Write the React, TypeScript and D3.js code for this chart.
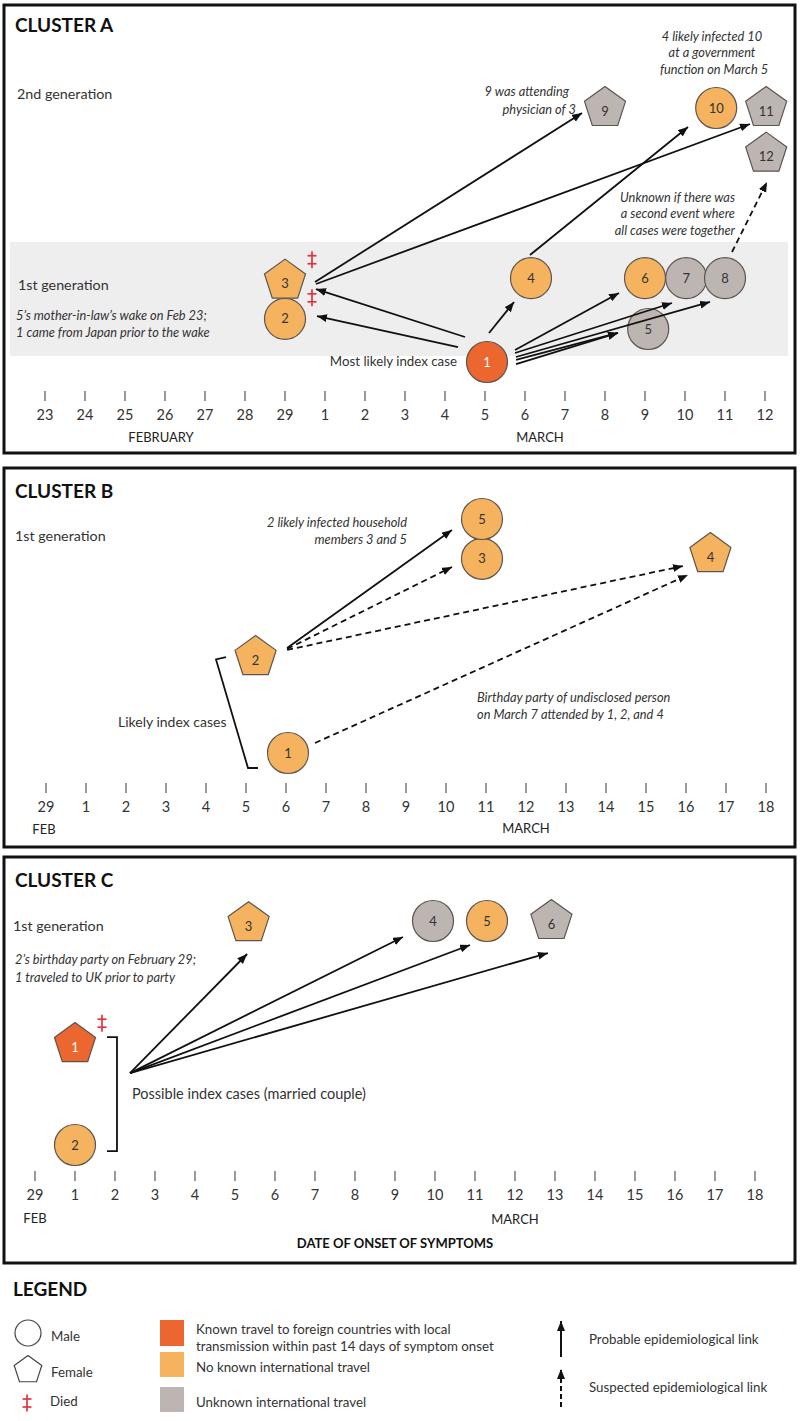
import React from 'react';
import * as d3 from 'd3';

// ---------- DATA ----------
// Day numbering: February d -> d, March d -> 29 + d
const tickDaysA = [23, 24, 25, 26, 27, 28, 29, 30, 31, 32, 33, 34, 35, 36, 37, 38, 39, 40, 41];
const tickLabelsA = ['23', '24', '25', '26', '27', '28', '29', '1', '2', '3', '4', '5', '6', '7', '8', '9', '10', '11', '12'];
const tickDaysBC = [29, 30, 31, 32, 33, 34, 35, 36, 37, 38, 39, 40, 41, 42, 43, 44, 45, 46, 47];
const tickLabelsBC = ['29', '1', '2', '3', '4', '5', '6', '7', '8', '9', '10', '11', '12', '13', '14', '15', '16', '17', '18'];

type Case = { id: string; onset: number; lane: number; sex: 'M' | 'F'; travel: 'known' | 'none' | 'unknown'; died?: boolean };
type Link = { from: string; to: string; kind: 'probable' | 'suspected' };

const casesA: Case[] = [
  { id: '1', onset: 34.05, lane: 0, sex: 'M', travel: 'known' },
  { id: '2', onset: 29, lane: 1.7, sex: 'M', travel: 'none', died: true },
  { id: '3', onset: 29, lane: 3.2, sex: 'F', travel: 'none', died: true },
  { id: '4', onset: 35.15, lane: 3.3, sex: 'M', travel: 'none' },
  { id: '5', onset: 38.08, lane: 1.3, sex: 'M', travel: 'unknown' },
  { id: '6', onset: 38, lane: 3.3, sex: 'M', travel: 'none' },
  { id: '7', onset: 39.03, lane: 3.3, sex: 'M', travel: 'unknown' },
  { id: '8', onset: 40, lane: 3.3, sex: 'M', travel: 'unknown' },
  { id: '9', onset: 37, lane: 10, sex: 'F', travel: 'unknown' },
  { id: '10', onset: 39.78, lane: 10, sex: 'M', travel: 'none' },
  { id: '11', onset: 41.03, lane: 10, sex: 'F', travel: 'unknown' },
  { id: '12', onset: 41.03, lane: 8.2, sex: 'F', travel: 'unknown' },
];
const linksA: Link[] = [
  { from: '1', to: '2', kind: 'probable' },
  { from: '1', to: '3', kind: 'probable' },
  { from: '3', to: '9', kind: 'probable' },
  { from: '3', to: '11', kind: 'probable' },
  { from: '4', to: '10', kind: 'probable' },
  { from: '8', to: '12', kind: 'suspected' },
  { from: '1', to: '4', kind: 'probable' },
  { from: '1', to: '6', kind: 'probable' },
  { from: '1', to: '7', kind: 'probable' },
  { from: '1', to: '8', kind: 'probable' },
  { from: '1', to: '5', kind: 'probable' },
  { from: '1', to: '5', kind: 'probable' },
];

const casesB: Case[] = [
  { id: '1', onset: 35.05, lane: 0, sex: 'M', travel: 'none' },
  { id: '2', onset: 34.24, lane: 4.1, sex: 'F', travel: 'none' },
  { id: '3', onset: 39.9, lane: 8.3, sex: 'M', travel: 'none' },
  { id: '5', onset: 39.9, lane: 10, sex: 'M', travel: 'none' },
  { id: '4', onset: 45.61, lane: 8.5, sex: 'F', travel: 'none' },
];
const linksB: Link[] = [
  { from: '2', to: '5', kind: 'probable' },
  { from: '2', to: '3', kind: 'suspected' },
  { from: '2', to: '4', kind: 'suspected' },
  { from: '1', to: '4', kind: 'suspected' },
];

const casesC: Case[] = [
  { id: '1', onset: 30, lane: 4.5, sex: 'F', travel: 'known', died: true },
  { id: '2', onset: 30, lane: 0, sex: 'M', travel: 'none' },
  { id: '3', onset: 34.34, lane: 9.9, sex: 'F', travel: 'none' },
  { id: '4', onset: 38.95, lane: 10, sex: 'M', travel: 'unknown' },
  { id: '5', onset: 40.3, lane: 10, sex: 'M', travel: 'none' },
  { id: '6', onset: 41.91, lane: 10, sex: 'F', travel: 'unknown' },
];
const pairC = { onset: 31.375, lane: 3.21 };
const linksC: Link[] = [
  { from: 'pair', to: '3', kind: 'probable' },
  { from: 'pair', to: '4', kind: 'probable' },
  { from: 'pair', to: '5', kind: 'probable' },
  { from: 'pair', to: '6', kind: 'probable' },
];

// ---------- LAYOUT (ports: [startAngle, startDist, endAngle, endDist]) ----------
const portsA = [
  [207.3, 32.6, -5, 32.1],
  [228.7, 33.3, 15, 32.1],
  [2.5, 30, 167.7, 23.5],
  [6, 31.2, 135.4, 22.8],
  [267.5, 23.2, 146, 34],
  [285, 27.1, 88.4, 28.3],
  [274, 29.1, 125.5, 29.2],
  [336.8, 30.5, 150.3, 29.9],
  [342.2, 29.4, 119.8, 28.6],
  [350.2, 29.4, 122.2, 28.1],
  [356, 29.1, 172.5, 30.5],
  [4, 29.1, 172.5, 30.5],
];
const portsB = [
  [343.9, 32.8, 159.9, 32],
  [345.6, 32.5, 164.7, 31.1],
  [347.3, 32.3, 156.6, 30],
  [339.7, 28.8, 137.1, 30.7],
];
const portsC = [
  [0, 0, 92.8, 30.8],
  [0, 0, 151.9, 34],
  [0, 0, 125.3, 29.4],
  [0, 0, 96.2, 32.2],
];

const FILL: Record<string, string> = { known: '#ec6630', none: '#f5b35f', unknown: '#bdb5b2' };
const CIRCLE_R = 20.5;
const PENT_R = 21.6;
const FONT = 'Lato, "Open Sans", sans-serif';

function pentPath(cx: number, cy: number, R: number) {
  const pts = [0, 1, 2, 3, 4].map((k) => {
    const a = ((-90 + 72 * k) * Math.PI) / 180;
    return [cx + R * Math.cos(a), cy + R * Math.sin(a)] as [number, number];
  });
  return (d3.line()(pts) as string) + 'Z';
}

function port(c: { x: number; y: number }, angle: number, dist: number) {
  const a = (angle * Math.PI) / 180;
  return [c.x + dist * Math.cos(a), c.y + dist * Math.sin(a)];
}

// "Died" symbol (double dagger), drawn as a glyph-like mark
function Dagger({ x, y }: { x: number; y: number }) {
  const c = '#e3343c';
  return (
    <g stroke={c} strokeWidth={1.7} fill="none">
      <line x1={x} x2={x} y1={y - 8.5} y2={y + 8.5} />
      <line x1={x - 4.5} x2={x + 4.5} y1={y - 4} y2={y - 4} />
      <line x1={x - 4.5} x2={x + 4.5} y1={y + 4} y2={y + 4} />
    </g>
  );
}

type ClusterProps = {
  uid: string;
  cases: Case[];
  links: Link[];
  ports: number[][];
  x: d3.ScaleLinear<number, number>;
  y: d3.ScaleLinear<number, number>;
  anchor?: { onset: number; lane: number };
  tickDays: number[];
  tickLabels: string[];
  tickY: number;
};

function Cluster({ uid, cases, links, ports, x, y, anchor, tickDays, tickLabels, tickY }: ClusterProps) {
  const pos: Record<string, { x: number; y: number }> = {};
  cases.forEach((c) => (pos[c.id] = { x: x(c.onset), y: y(c.lane) }));
  if (anchor) pos['pair'] = { x: x(anchor.onset), y: y(anchor.lane) };
  return (
    <g>
      <defs>
        <marker id={'arr' + uid} markerUnits="userSpaceOnUse" markerWidth={11} markerHeight={9} refX={10} refY={4} orient="auto">
          <path d="M0,0 L10,4 L0,8 Z" fill="#111" />
        </marker>
      </defs>
      {tickDays.map((d, i) => (
        <g key={'t' + i}>
          <line x1={x(d)} x2={x(d)} y1={tickY} y2={tickY + 10} stroke="#555" strokeWidth={1.2} />
          <text x={x(d)} y={tickY + 29} textAnchor="middle" fontSize={14.5} fill="#333" fontFamily={FONT}>
            {tickLabels[i]}
          </text>
        </g>
      ))}
      {cases.map((c) => {
        const p = pos[c.id];
        const fill = FILL[c.travel];
        return (
          <g key={'n' + c.id}>
            {c.sex === 'M' ? (
              <circle cx={p.x} cy={p.y} r={CIRCLE_R} fill={fill} stroke="#5b5550" strokeWidth={1.2} />
            ) : (
              <path d={pentPath(p.x, p.y, PENT_R)} fill={fill} stroke="#5b5550" strokeWidth={1.2} />
            )}
            <text
              x={p.x}
              y={p.y + (c.sex === 'F' ? 3 : 0)}
              dy="0.35em"
              textAnchor="middle"
              fontSize={13}
              fill={c.travel === 'known' ? '#fff' : '#333'}
              fontFamily={FONT}
            >
              {c.id}
            </text>
            {c.died && <Dagger x={p.x + 27} y={p.y - 21} />}
          </g>
        );
      })}
      {links.map((l, i) => {
        const [a0, d0, a1, d1] = ports[i];
        const s = port(pos[l.from], a0, d0);
        const e = port(pos[l.to], a1, d1);
        return (
          <line
            key={'l' + i}
            x1={s[0]}
            y1={s[1]}
            x2={e[0]}
            y2={e[1]}
            stroke="#111"
            strokeWidth={1.8}
            strokeDasharray={l.kind === 'suspected' ? '6 4' : undefined}
            markerEnd={`url(#arr${uid})`}
          />
        );
      })}
    </g>
  );
}

export default function App() {
  const xA = d3.scaleLinear().domain([23, 41]).range([45, 765]);
  const yA = d3.scaleLinear().domain([0, 10]).range([362, 108]);
  const xB = d3.scaleLinear().domain([29, 47]).range([46, 766]);
  const yB = d3.scaleLinear().domain([0, 10]).range([753, 519]);
  const xC = d3.scaleLinear().domain([29, 47]).range([35, 755]);
  const yC = d3.scaleLinear().domain([0, 10]).range([1145, 921]);

  const italic = { fontFamily: FONT, fontStyle: 'italic' as const, fontSize: 12.8, fill: '#333' };
  const normal = { fontFamily: FONT, fontSize: 14.3, fill: '#333' };
  const title = { fontFamily: FONT, fontSize: 19, fontWeight: 700, fill: '#111' };
  const month = { fontFamily: FONT, fontSize: 13, fill: '#222', textAnchor: 'middle' as const };
  const leg = { fontFamily: FONT, fontSize: 13.3, fill: '#333' };

  const bracketB: [number, number][] = [
    [xB(33.5), yB(4.1)],
    [xB(33.25), yB(4.0)],
    [xB(34.05), yB(-0.64)],
    [xB(34.3), yB(-0.64)],
  ];
  const bracketC: [number, number][] = [
    [xC(30.8), yC(4.82)],
    [xC(31.05), yC(4.82)],
    [xC(31.05), yC(-0.27)],
    [xC(30.8), yC(-0.27)],
  ];
  const lineGen = d3.line();

  return (
    <svg width={800} height={1421} style={{ position: 'absolute', left: 0, top: 0, background: '#fff' }}>
      {/* Panel A */}
      <rect x={4} y={5} width={791} height={448} fill="#fff" stroke="#111" strokeWidth={3} />
      <rect x={10} y={242} width={778} height={114} fill="#eeeeee" />
      <text x={15} y={32} {...title}>CLUSTER A</text>
      <text x={17} y={99} {...normal}>2nd generation</text>
      <text x={18} y={290} {...normal}>1st generation</text>
      <text x={16} y={320} {...italic}>5’s mother-in-law’s wake on Feb 23;</text>
      <text x={16} y={337} {...italic}>1 came from Japan prior to the wake</text>
      <text x={457} y={366} textAnchor="end" fontFamily={FONT} fontSize={13.3} fill="#333">Most likely index case</text>
      <text x={569} y={96} textAnchor="end" {...italic}>9 was attending</text>
      <text x={576} y={114} textAnchor="end" {...italic}>physician of 3</text>
      <text x={712} y={41} textAnchor="middle" {...italic}>4 likely infected 10</text>
      <text x={712} y={57} textAnchor="middle" {...italic}>at a government</text>
      <text x={714} y={74} textAnchor="middle" {...italic}>function on March 5</text>
      <text x={735} y={202} textAnchor="end" {...italic}>Unknown if there was</text>
      <text x={735} y={218} textAnchor="end" {...italic}>a second event where</text>
      <text x={735} y={235} textAnchor="end" {...italic}>all cases were together</text>
      <Cluster uid="A" cases={casesA} links={linksA} ports={portsA} x={xA} y={yA} tickDays={tickDaysA} tickLabels={tickLabelsA} tickY={391} />
      <text x={161} y={442} {...month}>FEBRUARY</text>
      <text x={540} y={442} {...month}>MARCH</text>

      {/* Panel B */}
      <rect x={4} y={468} width={791} height={379} fill="none" stroke="#111" strokeWidth={3} />
      <text x={15} y={498} {...title}>CLUSTER B</text>
      <text x={15} y={541} {...normal}>1st generation</text>
      <text x={407} y={527} textAnchor="end" {...italic}>2 likely infected household</text>
      <text x={407} y={544} textAnchor="end" {...italic}>members 3 and 5</text>
      <text x={477} y={702} {...italic}>Birthday party of undisclosed person</text>
      <text x={477} y={719} {...italic}>on March 7 attended by 1, 2, and 4</text>
      <text x={118} y={727} fontFamily={FONT} fontSize={14} fill="#333">Likely index cases</text>
      <path d={lineGen(bracketB) as string} fill="none" stroke="#111" strokeWidth={1.8} />
      <Cluster uid="B" cases={casesB} links={linksB} ports={portsB} x={xB} y={yB} tickDays={tickDaysBC} tickLabels={tickLabelsBC} tickY={783} />
      <text x={44} y={834} {...month}>FEB</text>
      <text x={526} y={833} {...month}>MARCH</text>

      {/* Panel C */}
      <rect x={4} y={857} width={791} height={406} fill="none" stroke="#111" strokeWidth={3} />
      <text x={15} y={887} {...title}>CLUSTER C</text>
      <text x={13} y={931} {...normal}>1st generation</text>
      <text x={15} y={964} {...italic}>2’s birthday party on February 29;</text>
      <text x={15} y={982} {...italic}>1 traveled to UK prior to party</text>
      <text x={132} y={1099} fontFamily={FONT} fontSize={14.5} fill="#333">Possible index cases (married couple)</text>
      <path d={lineGen(bracketC) as string} fill="none" stroke="#111" strokeWidth={1.8} />
      <Cluster uid="C" cases={casesC} links={linksC} ports={portsC} x={xC} y={yC} anchor={pairC} tickDays={tickDaysBC} tickLabels={tickLabelsBC} tickY={1171} />
      <text x={35} y={1223} {...month}>FEB</text>
      <text x={515} y={1224} {...month}>MARCH</text>
      <text x={395} y={1248} textAnchor="middle" fontFamily={FONT} fontSize={13} fontWeight={700} fill="#111">DATE OF ONSET OF SYMPTOMS</text>

      {/* Legend */}
      <text x={13} y={1296} fontFamily={FONT} fontSize={19} fontWeight={700} fill="#111">LEGEND</text>
      <circle cx={28} cy={1333} r={13} fill="none" stroke="#444" strokeWidth={1.2} />
      <text x={51} y={1341} {...leg}>Male</text>
      <path d={pentPath(28, 1370, 14.5)} fill="none" stroke="#444" strokeWidth={1.2} />
      <text x={51} y={1377} {...leg}>Female</text>
      <Dagger x={27} y={1403} />
      <text x={50} y={1406} {...leg}>Died</text>

      <rect x={160} y={1320} width={24} height={26} fill={FILL.known} />
      <rect x={160} y={1352} width={24} height={25} fill={FILL.none} />
      <rect x={160} y={1387} width={24} height={25} fill={FILL.unknown} />
      <text x={196} y={1334} {...leg}>Known travel to foreign countries with local</text>
      <text x={196} y={1351} {...leg}>transmission within past 14 days of symptom onset</text>
      <text x={196} y={1372} {...leg}>No known international travel</text>
      <text x={196} y={1407} {...leg}>Unknown international travel</text>

      <defs>
        <marker id="arrL" markerUnits="userSpaceOnUse" markerWidth={11} markerHeight={9} refX={10} refY={4} orient="auto">
          <path d="M0,0 L10,4 L0,8 Z" fill="#111" />
        </marker>
      </defs>
      <line x1={561} y1={1357} x2={561} y2={1321} stroke="#111" strokeWidth={2} markerEnd="url(#arrL)" />
      <line x1={561} y1={1407} x2={561} y2={1369} stroke="#111" strokeWidth={2} strokeDasharray="5 3" markerEnd="url(#arrL)" />
      <text x={589} y={1344} {...leg}>Probable epidemiological link</text>
      <text x={589} y={1392} {...leg}>Suspected epidemiological link</text>
    </svg>
  );
}
